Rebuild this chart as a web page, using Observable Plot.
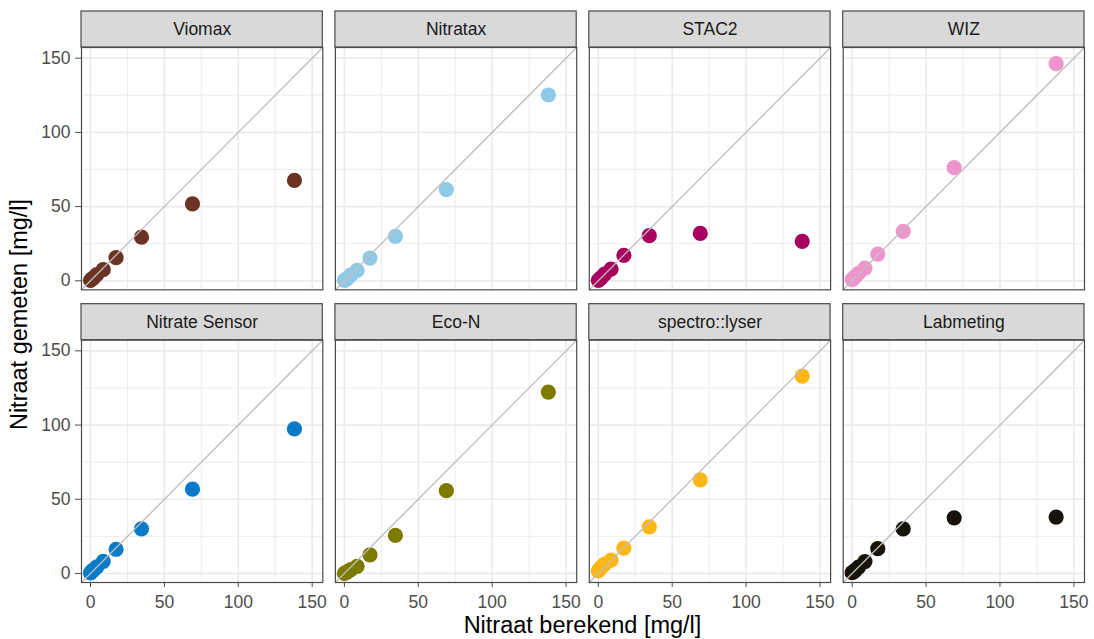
<!DOCTYPE html>
<html>
<head>
<meta charset="utf-8">
<script src="https://cdn.jsdelivr.net/npm/d3@7"></script>
<script src="https://cdn.jsdelivr.net/npm/@observablehq/plot@0.6"></script>
<style>
  html, body { margin: 0; padding: 0; background: #ffffff; }
  #chart svg { display: block; }
</style>
</head>
<body>
<div id="chart"></div>
<script>
// ---- data ----
const seriesNames = ["Viomax", "Nitratax", "STAC2", "WIZ", "Nitrate Sensor", "Eco-N", "spectro::lyser", "Labmeting"];
const seriesColors = ["#6B3324", "#8ECAE7", "#A8005F", "#EE95CD", "#0A7BC9", "#7D7A00", "#FDB714", "#17120A"];
const nitraatBerekend = [0, 1.1, 2.2, 4.3, 8.6, 17.3, 34.5, 69, 138];
const yViomax        = [0.3, 1.2, 2.2, 4.2, 7.5, 15.6, 29.4, 51.8, 67.6];
const yNitratax      = [0.2, 0.9, 1.8, 3.8, 7.0, 15.3, 30.0, 61.5, 125.2];
const ySTAC2         = [0.3, 1.3, 2.3, 4.5, 7.8, 17.1, 30.4, 31.9, 26.5];
const yWIZ           = [0.8, 1.8, 3.0, 5.0, 8.5, 18.0, 33.3, 76.2, 146.3];
const yNitrateSensor = [0.4, 1.5, 2.5, 4.5, 8.2, 16.3, 30.0, 56.8, 97.4];
const yEcoN          = [0.0, 0.6, 1.3, 2.6, 4.8, 12.5, 25.6, 55.8, 122.2];
const ySpectrolyser  = [1.8, 3.0, 4.5, 6.3, 9.0, 17.0, 31.4, 63.1, 133.0];
const yLabmeting     = [0.5, 1.3, 2.3, 4.3, 8.0, 16.7, 30.0, 37.5, 38.0];
const seriesValues = [yViomax, yNitratax, ySTAC2, yWIZ, yNitrateSensor, yEcoN, ySpectrolyser, yLabmeting];
const axisLimits = [-6.1, 157.2];
const majorTicks = [0, 50, 100, 150];
const minorTicks = [25, 75, 125];
const xTitle = "Nitraat berekend [mg/l]";
const yTitle = "Nitraat gemeten [mg/l]";

// ---- tables ----
const points = [];
seriesNames.forEach((s, i) => {
  seriesValues[i].forEach((v, j) => {
    points.push({series: s, col: i % 4, row: Math.floor(i / 4), x: nitraatBerekend[j], y: v});
  });
});
const strips = seriesNames.map((s, i) => ({series: s, col: i % 4, row: Math.floor(i / 4)}));
const diagonal = axisLimits.map(v => ({v}));

const W = 1094, H = 639;
const mL = 81, mR = 10, mT = 47, mB = 57;
const stripH = 36;
const font = "'Liberation Sans', Arial, Helvetica, sans-serif";

const plot = Plot.plot({
  width: W, height: H,
  marginLeft: mL, marginRight: mR, marginTop: mT, marginBottom: mB,
  style: {fontFamily: font, background: "#ffffff"},
  x: {domain: axisLimits},
  y: {domain: axisLimits},
  fx: {domain: [0, 1, 2, 3], paddingInner: 0.0496, paddingOuter: 0, round: false, axis: null},
  fy: {domain: [0, 1], paddingInner: 0.172, paddingOuter: 0, round: false, axis: null},
  color: {domain: seriesNames, range: seriesColors},
  marks: [
    Plot.gridX(minorTicks, {stroke: "#EBEBEB", strokeOpacity: 1, strokeWidth: 0.9}),
    Plot.gridY(minorTicks, {stroke: "#EBEBEB", strokeOpacity: 1, strokeWidth: 0.9}),
    Plot.gridX(majorTicks, {stroke: "#EBEBEB", strokeOpacity: 1, strokeWidth: 1.7}),
    Plot.gridY(majorTicks, {stroke: "#EBEBEB", strokeOpacity: 1, strokeWidth: 1.7}),
    Plot.dot(points, {x: "x", y: "y", fx: "col", fy: "row", fill: "series", r: 7.6, stroke: null}),
    Plot.line(diagonal, {x: "v", y: "v", stroke: "#BEBEBE", strokeWidth: 1.3}),
    Plot.frame({stroke: "#4a4a4a", strokeWidth: 1.2}),
    Plot.rect(strips, {
      fx: "col", fy: "row",
      x1: axisLimits[0], x2: axisLimits[1], y1: axisLimits[1], y2: axisLimits[1],
      insetTop: -stripH, fill: "#D9D9D9", stroke: "#4a4a4a", strokeWidth: 1.2
    }),
    Plot.text(strips, {
      fx: "col", fy: "row",
      x: (axisLimits[0] + axisLimits[1]) / 2, y: axisLimits[1], dy: -stripH / 2,
      text: "series", fill: "#1A1A1A", fontSize: 17.5, fontFamily: font
    }),
    Plot.axisX(majorTicks, {anchor: "bottom", tickSize: 5, tickPadding: 8, fontSize: 17.5, color: "#4D4D4D", label: null, fontFamily: font}),
    Plot.axisY(majorTicks, {anchor: "left", tickSize: 6, tickPadding: 5, fontSize: 17.5, color: "#4D4D4D", label: null, fontFamily: font})
  ]
});

document.getElementById("chart").appendChild(plot);

// axis titles
const svg = d3.select(plot);
const panelLeft = mL, panelRight = W - mR, panelTop = mT, panelBottom = H - mB;
svg.append("text")
  .attr("x", (panelLeft + panelRight) / 2)
  .attr("y", 627)
  .attr("text-anchor", "middle")
  .attr("dominant-baseline", "middle")
  .attr("font-family", font)
  .attr("font-size", 23.5)
  .attr("fill", "#000000")
  .text(xTitle);
svg.append("text")
  .attr("transform", `translate(21,${(panelTop + panelBottom) / 2}) rotate(-90)`)
  .attr("text-anchor", "middle")
  .attr("dominant-baseline", "middle")
  .attr("font-family", font)
  .attr("font-size", 23.5)
  .attr("fill", "#000000")
  .text(yTitle);
</script>
</body>
</html>
